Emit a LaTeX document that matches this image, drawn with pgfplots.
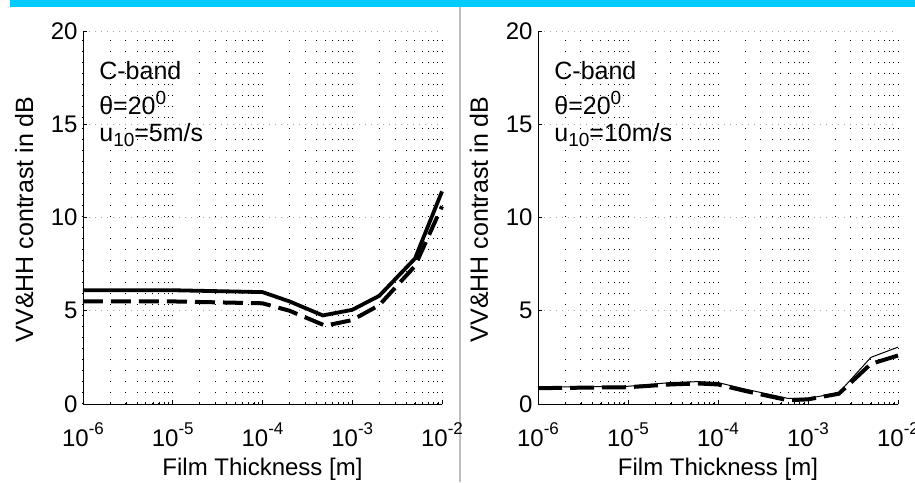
\documentclass[border=0pt]{standalone}
\usepackage{fontspec}
\setmainfont{Liberation Sans}
\usepackage{pgfplots}
\pgfplotsset{compat=1.18}
\definecolor{band}{RGB}{0,204,255}
\newcommand{\myex}[1]{10\raisebox{12pt}{\fontsize{17}{17}\selectfont #1}}
\newcommand{\mysup}[1]{\raisebox{10pt}{\fontsize{19}{19}\selectfont #1}}
\newcommand{\mysub}[1]{\raisebox{-5pt}{\fontsize{19}{19}\selectfont #1}}
\begin{document}
\begin{tikzpicture}[x=1pt,y=1pt]
\useasboundingbox (0,0) rectangle (915,482);
\fill[white] (0,0) rectangle (915,482);
\fill[band] (10,475) rectangle (915,482);
\draw[gray!50, line width=1.5pt] (460,0) -- (460,475);

\begin{axis}[
    at={(83pt,78pt)}, anchor=south west,
    scale only axis, width=359pt, height=373pt,
    xmode=log, xmin=1e-6, xmax=1e-2, ymin=0, ymax=20,
    axis x line*=bottom, axis y line*=left,
    axis line style={-, black, line width=0.8pt},
    xtick={1e-6,1e-5,1e-4,1e-3,1e-2},
    xticklabels={\myex{-6},\myex{-5},\myex{-4},\myex{-3},\myex{-2}},
    ytick={0,5,10,15,20},
    minor x tick num=8,
    tick align=inside,
    major tick length=4pt, minor tick length=2.5pt,
    tick style={black, line width=0.6pt},
    xmajorgrids, xminorgrids, ymajorgrids,
    x grid style={black, line width=1pt, dash pattern=on 1.2pt off 9.8pt},
    y grid style={gray!70, line width=0.8pt, dash pattern=on 1pt off 5pt},
    minor x grid style={black, line width=1pt, dash pattern=on 1.2pt off 9.8pt},
    /pgf/number format/assume math mode=true,
    tick label style={font=\fontsize{24}{26}\selectfont},
    xticklabel style={anchor=base, yshift=-42pt},
    yticklabel style={xshift=-2pt},
    xlabel={Film Thickness [m]},
    ylabel={VV\&HH contrast in dB},
    xlabel style={font=\fontsize{24}{26}\selectfont, at={(axis description cs:0.5,-0.193)}, anchor=base},
    ylabel style={font=\fontsize{25}{27}\selectfont, at={(axis description cs:-0.139,0.495)}, anchor=base},
    clip=false,
]
\addplot[black, line width=3.8pt] coordinates {
(1e-6,6.1)(1e-5,6.1)(1e-4,6.0)(2e-4,5.5)(4.7e-4,4.75)(1e-3,5.05)(2e-3,5.8)(5e-3,7.8)(1e-2,11.4)};
\addplot[black, line width=4pt, dash pattern=on 20pt off 8pt] coordinates {
(1e-6,5.5)(1e-5,5.5)(1e-4,5.4)(2e-4,5.0)(5e-4,4.2)(1e-3,4.5)(2e-3,5.3)(5e-3,7.4)(1e-2,10.6)};
\node[anchor=base west, font=\fontsize{25}{27}\selectfont, inner sep=0pt] at (rel axis cs:0.045,0.871) {C-band};
\node[anchor=base west, font=\fontsize{25}{27}\selectfont, inner sep=0pt] at (rel axis cs:0.045,0.775) {θ=20\mysup{0}};
\node[anchor=base west, font=\fontsize{25}{27}\selectfont, inner sep=0pt] at (rel axis cs:0.045,0.705) {u\mysub{10}=5m/s};
\end{axis}

\begin{axis}[
    at={(538pt,78pt)}, anchor=south west,
    scale only axis, width=360pt, height=373pt,
    xmode=log, xmin=1e-6, xmax=1e-2, ymin=0, ymax=20,
    axis x line*=bottom, axis y line*=left,
    axis line style={-, black, line width=0.8pt},
    xtick={1e-6,1e-5,1e-4,1e-3,1e-2},
    xticklabels={\myex{-6},\myex{-5},\myex{-4},\myex{-3},\myex{-2}},
    ytick={0,5,10,15,20},
    minor x tick num=8,
    tick align=inside,
    major tick length=4pt, minor tick length=2.5pt,
    tick style={black, line width=0.6pt},
    xmajorgrids, xminorgrids, ymajorgrids,
    x grid style={black, line width=1pt, dash pattern=on 1.2pt off 9.8pt},
    y grid style={gray!70, line width=0.8pt, dash pattern=on 1pt off 5pt},
    minor x grid style={black, line width=1pt, dash pattern=on 1.2pt off 9.8pt},
    /pgf/number format/assume math mode=true,
    tick label style={font=\fontsize{24}{26}\selectfont},
    xticklabel style={anchor=base, yshift=-42pt},
    yticklabel style={xshift=-2pt},
    xlabel={Film Thickness [m]},
    ylabel={VV\&HH contrast in dB},
    xlabel style={font=\fontsize{24}{26}\selectfont, at={(axis description cs:0.5,-0.193)}, anchor=base},
    ylabel style={font=\fontsize{25}{27}\selectfont, at={(axis description cs:-0.139,0.495)}, anchor=base},
    clip=false,
]
\addplot[black, line width=1pt] coordinates {
(1e-6,0.9)(1e-5,0.95)(3e-5,1.15)(6e-5,1.2)(1e-4,1.15)(2e-4,0.8)(6e-4,0.3)(1e-3,0.3)(2.2e-3,0.6)(5e-3,2.5)(1e-2,3.05)};
\addplot[black, line width=4pt, dash pattern=on 24pt off 8pt] coordinates {
(1e-6,0.85)(1e-5,0.9)(3e-5,1.05)(6e-5,1.1)(1e-4,1.05)(2e-4,0.7)(6e-4,0.2)(1e-3,0.25)(2.2e-3,0.55)(5e-3,2.15)(1e-2,2.6)};
\node[anchor=base west, font=\fontsize{25}{27}\selectfont, inner sep=0pt] at (rel axis cs:0.045,0.871) {C-band};
\node[anchor=base west, font=\fontsize{25}{27}\selectfont, inner sep=0pt] at (rel axis cs:0.045,0.775) {θ=20\mysup{0}};
\node[anchor=base west, font=\fontsize{25}{27}\selectfont, inner sep=0pt] at (rel axis cs:0.045,0.705) {u\mysub{10}=10m/s};
\end{axis}
\end{tikzpicture}
\end{document}
